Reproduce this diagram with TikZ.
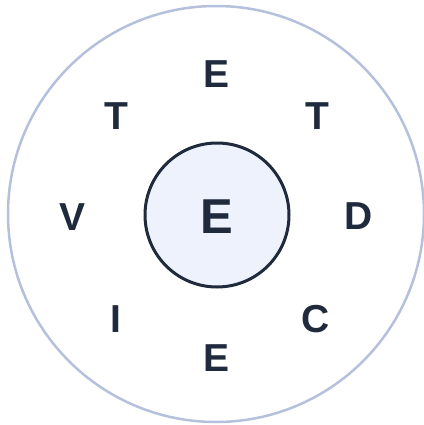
\documentclass[tikz,border=0pt]{standalone}
\usepackage{fontspec}
\setmainfont{Liberation Sans}
\definecolor{ink}{HTML}{1F2A3C}
\definecolor{ring}{HTML}{B4C0DC}
\definecolor{fillc}{HTML}{EDF2FD}
\begin{document}
\begin{tikzpicture}[x=1pt,y=-1pt,
  lett/.style={font=\fontsize{39}{39}\selectfont\bfseries, text=ink, inner sep=0pt, text depth=0pt},
  bigl/.style={font=\fontsize{49}{49}\selectfont\bfseries, text=ink, inner sep=0pt, text depth=0pt}]
\useasboundingbox (0,0) rectangle (423,425);
\node[circle, draw=ring, line width=2.5pt, minimum size=416pt, inner sep=0pt] (outer) at (216,214) {};
\node[circle, draw=ink, fill=fillc, line width=3pt, minimum size=144pt, inner sep=0pt] (inner) at (217,215) {};
\node[bigl] (c) at (217,217) {E};
\node[lett] (n) at (217,74) {E};
\node[lett] (nw) at (116,116) {T};
\node[lett] (ne) at (317,116) {T};
\node[lett] (w) at (73,217) {V};
\node[lett] (e) at (359,216) {D};
\node[lett] (sw) at (116,319) {I};
\node[lett] (se) at (316,319) {C};
\node[lett] (s) at (217,358) {E};
\end{tikzpicture}
\end{document}
